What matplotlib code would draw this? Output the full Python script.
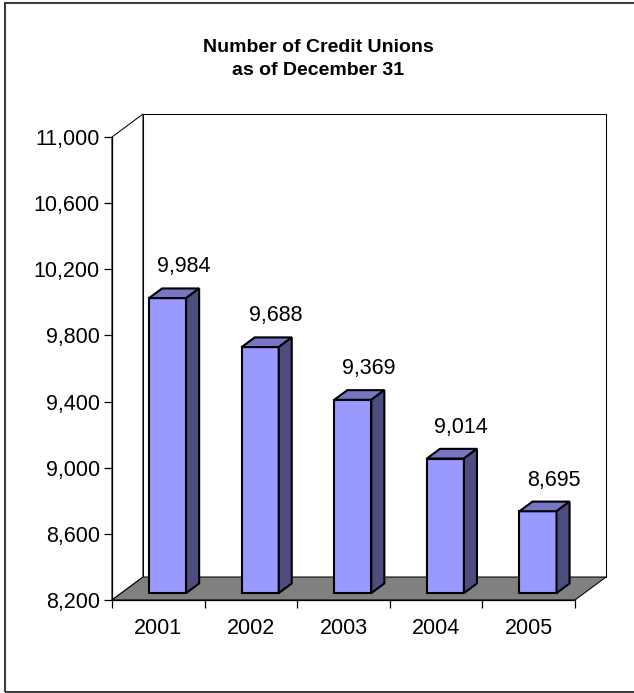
import matplotlib
matplotlib.use("Agg")
import matplotlib.pyplot as plt
from matplotlib.patches import Polygon, Rectangle

plt.rcParams['font.family'] = ['Liberation Sans', 'DejaVu Sans']

# Data
years = ["2001", "2002", "2003", "2004", "2005"]
credit_unions = [9984, 9688, 9369, 9014, 8695]
y_ticks = [8200, 8600, 9000, 9400, 9800, 10200, 10600, 11000]
title = "Number of Credit Unions\nas of December 31"

# Pseudo-3D geometry (in data units)
Y_MIN, Y_MAX = y_ticks[0], y_ticks[-1]
N = len(years)
DEPTH_X = 0.335          # depth offset along category axis
DEPTH_Y = 139.0          # depth offset along value axis
BAR_W = 0.40
F0, F1 = 0.30, 0.72      # front/back depth fraction of the bars

FRONT = "#9999FF"
TOP = "#7676C4"
SIDE = "#4D4D80"
FLOOR = "#808080"

W, H = 634, 693
fig = plt.figure(figsize=(W / 100, H / 100), dpi=100)
ax = fig.add_axes([112 / W, 1 - 600 / H, (575 - 112) / W, (600 - 137) / H])
ax.set_xlim(0, N)
ax.set_ylim(Y_MIN, Y_MAX)
ax.patch.set_visible(False)

def poly(pts, fc, lw=0.75, z=1):
    p = Polygon(pts, closed=True, facecolor=fc, edgecolor="black",
                linewidth=lw, joinstyle="miter", clip_on=False, zorder=z)
    ax.add_patch(p)

# Side wall, back wall and floor
poly([(0, Y_MIN), (DEPTH_X, Y_MIN + DEPTH_Y), (DEPTH_X, Y_MAX + DEPTH_Y), (0, Y_MAX)], "white", z=0.5)
poly([(DEPTH_X, Y_MIN + DEPTH_Y), (N + DEPTH_X, Y_MIN + DEPTH_Y),
      (N + DEPTH_X, Y_MAX + DEPTH_Y), (DEPTH_X, Y_MAX + DEPTH_Y)], "white", z=0.6)
poly([(0, Y_MIN), (N, Y_MIN), (N + DEPTH_X, Y_MIN + DEPTH_Y), (DEPTH_X, Y_MIN + DEPTH_Y)], FLOOR, z=0.7)

# Bars
for i, v in enumerate(credit_unions):
    xl = i + 0.5 - BAR_W / 2 + F0 * DEPTH_X
    xr = xl + BAR_W
    ddx = (F1 - F0) * DEPTH_X
    ddy = (F1 - F0) * DEPTH_Y
    yb = Y_MIN + F0 * DEPTH_Y
    yt = v + F0 * DEPTH_Y
    poly([(xl, yb), (xr, yb), (xr, yt), (xl, yt)], FRONT, lw=1.5, z=2)
    poly([(xl, yt), (xr, yt), (xr + ddx, yt + ddy), (xl + ddx, yt + ddy)], TOP, lw=1.5, z=2)
    poly([(xr, yb), (xr + ddx, yb + ddy), (xr + ddx, yt + ddy), (xr, yt)], SIDE, lw=1.5, z=2)
    ax.text(i + 0.5 + 0.27, v + 230, f"{v:,}", ha="center", va="center",
            fontsize=15.5, zorder=3)

# Axes
for s in ("top", "right"):
    ax.spines[s].set_visible(False)
ax.spines["left"].set_bounds(Y_MIN, Y_MAX)
ax.spines["bottom"].set_bounds(0, N)
for s in ("left", "bottom"):
    ax.spines[s].set_linewidth(0.9)
    ax.spines[s].set_zorder(4)

ax.set_yticks(y_ticks)
ax.set_yticklabels([f"{t:,}" for t in y_ticks])
ax.tick_params(axis="y", direction="out", length=5.8, width=0.9, pad=3, labelsize=15.5)

ax.set_xticks(range(N + 1))
ax.set_xticklabels([])
ax.tick_params(axis="x", which="major", direction="out", length=5.8, width=0.9)
ax.set_xticks([i + 0.5 for i in range(N)], minor=True)
ax.set_xticklabels(years, minor=True)
ax.tick_params(axis="x", which="minor", length=0, pad=13, labelsize=15.5)

# Title and outer frame
fig.text(318 / W, 1 - 59 / H, title, ha="center", va="center",
         fontsize=14, fontweight="bold", linespacing=1.45)
fig.patches.append(Rectangle((5 / W, 1 - 692 / H), 1.0, (692 - 3) / H,
                             transform=fig.transFigure, fill=False,
                             edgecolor="#3c3c3c", linewidth=1.5))

fig.savefig("out.png", dpi=100)
